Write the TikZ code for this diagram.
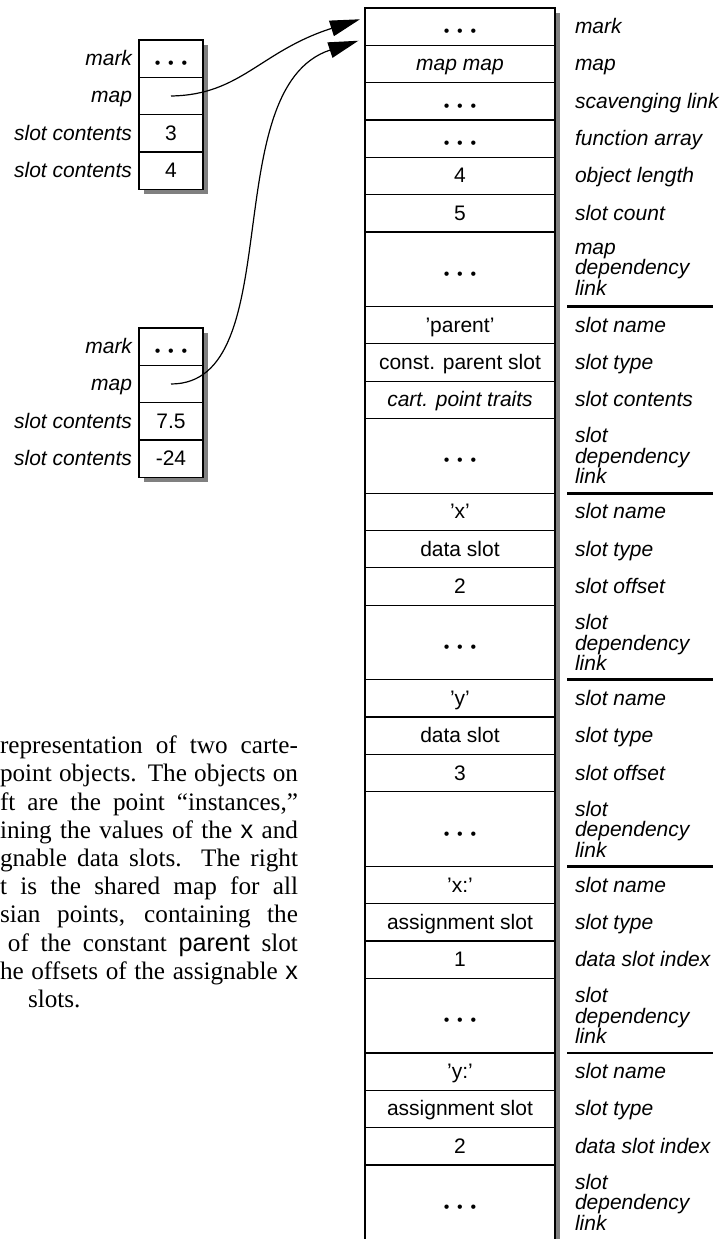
\documentclass[tikz,border=0pt]{standalone}
\usepackage{fontspec}
\setmainfont{Liberation Serif}
\setsansfont{Liberation Sans}
\usetikzlibrary{arrows.meta,positioning,shadows,calc}

\newcommand{\slotdots}{\raisebox{-1.5pt}{\fontsize{8}{8}\selectfont •\hspace{3.9pt}•\hspace{3.9pt}•}}
\newcommand{\deplink}[1]{#1\\[-2.35pt]dependency\\[-2.35pt]link}

\begin{document}
\begin{tikzpicture}[x=1pt, y=1pt,
    every node/.style={outer sep=0pt, inner sep=0pt, font=\sffamily\fontsize{10.5}{12.6}\selectfont},
    node distance=0pt,
    cell/.style={draw, line width=0.6pt, fill=white, minimum height=18.66pt,
        text height=8.5pt, text depth=1.5pt,
        drop shadow={shadow xshift=2.5pt, shadow yshift=-2.5pt, fill=black!50, opacity=1}},
    small/.style={cell, minimum width=32pt},
    wide/.style={cell, minimum width=95pt},
    tall/.style={wide, minimum height=37.32pt},
    stack/.style={font=\sffamily\itshape\fontsize{10.5}{12.6}\selectfont, align=left},
    lab/.style={stack, text height=8.5pt, text depth=1.5pt},
    grp/.style={line width=1.4pt},
    link/.style={line width=0.6pt, -{Triangle[length=15pt, width=8pt]}}]
    \useasboundingbox (0,0) rectangle (361.5,-619.5);

    % the shared map
    \node[wide, anchor=north west] (mk) at (182.5,-4) {\slotdots};
    \node[wide, below=of mk] (mp) {\itshape map map};
    \node[wide, below=of mp] (sl) {\slotdots};
    \node[wide, below=of sl] (fa) {\slotdots};
    \node[wide, below=of fa] (ol) {4};
    \node[wide, below=of ol] (sc) {5};
    \node[tall, below=of sc] (md) {\slotdots};
    \node[wide, below=of md] (pn) {'parent'};
    \node[wide, below=of pn] (pt) {const. parent slot};
    \node[wide, below=of pt] (pc) {\itshape cart. point traits};
    \node[tall, below=of pc] (pd) {\slotdots};
    \node[wide, below=of pd] (xn) {'x'};
    \node[wide, below=of xn] (xt) {data slot};
    \node[wide, below=of xt] (xo) {2};
    \node[tall, below=of xo] (xd) {\slotdots};
    \node[wide, below=of xd] (yn) {'y'};
    \node[wide, below=of yn] (yt) {data slot};
    \node[wide, below=of yt] (yo) {3};
    \node[tall, below=of yo] (yd) {\slotdots};
    \node[wide, below=of yd] (xan) {'x:'};
    \node[wide, below=of xan] (xat) {assignment slot};
    \node[wide, below=of xat] (xai) {1};
    \node[tall, below=of xai] (xad) {\slotdots};
    \node[wide, below=of xad] (yan) {'y:'};
    \node[wide, below=of yan] (yat) {assignment slot};
    \node[wide, below=of yat] (yai) {2};
    \node[tall, below=of yai] (yad) {\slotdots};

    \node[lab, right=10pt of mk] (mkl) {mark};
    \node[lab, right=10pt of mp] (mpl) {map};
    \node[lab, right=10pt of sl] (sll) {scavenging link};
    \node[lab, right=10pt of fa] (fal) {function array};
    \node[lab, right=10pt of ol] (oll) {object length};
    \node[lab, right=10pt of sc] (scl) {slot count};
    \node[stack, right=10pt of md] (mdl) {\deplink{map}};
    \node[lab, right=10pt of pn] (pnl) {slot name};
    \node[lab, right=10pt of pt] (ptl) {slot type};
    \node[lab, right=10pt of pc] (pcl) {slot contents};
    \node[stack, right=10pt of pd] (pdl) {\deplink{slot}};
    \node[lab, right=10pt of xn] (xnl) {slot name};
    \node[lab, right=10pt of xt] (xtl) {slot type};
    \node[lab, right=10pt of xo] (xol) {slot offset};
    \node[stack, right=10pt of xd] (xdl) {\deplink{slot}};
    \node[lab, right=10pt of yn] (ynl) {slot name};
    \node[lab, right=10pt of yt] (ytl) {slot type};
    \node[lab, right=10pt of yo] (yol) {slot offset};
    \node[stack, right=10pt of yd] (ydl) {\deplink{slot}};
    \node[lab, right=10pt of xan] (xanl) {slot name};
    \node[lab, right=10pt of xat] (xatl) {slot type};
    \node[lab, right=10pt of xai] (xail) {data slot index};
    \node[stack, right=10pt of xad] (xadl) {\deplink{slot}};
    \node[lab, right=10pt of yan] (yanl) {slot name};
    \node[lab, right=10pt of yat] (yatl) {slot type};
    \node[lab, right=10pt of yai] (yail) {data slot index};
    \node[stack, right=10pt of yad] (yadl) {\deplink{slot}};

    \foreach \g in {md,pd,xd,yd,xad}
        \draw[grp] ($(\g.south east)+(6,0)$) -- +(73,0);

    % the two points
    \node[small, anchor=north west] (a1) at (69.5,-20) {\slotdots};
    \node[small, below=of a1] (a2) {};
    \node[small, below=of a2] (a3) {3};
    \node[small, below=of a3] (a4) {4};
    \node[lab, left=3.5pt of a1] (a1l) {mark};
    \node[lab, left=3.5pt of a2] (a2l) {map};
    \node[lab, left=3.5pt of a3] (a3l) {slot contents};
    \node[lab, left=3.5pt of a4] (a4l) {slot contents};

    \node[small, anchor=north west] (b1) at (69.5,-164) {\slotdots};
    \node[small, below=of b1] (b2) {};
    \node[small, below=of b2] (b3) {7.5};
    \node[small, below=of b3] (b4) {-24};
    \node[lab, left=3.5pt of b1] (b1l) {mark};
    \node[lab, left=3.5pt of b2] (b2l) {map};
    \node[lab, left=3.5pt of b3] (b3l) {slot contents};
    \node[lab, left=3.5pt of b4] (b4l) {slot contents};

    \draw[link] (a2.center) .. controls +(35,0.5) and +(-50,-16) .. ($(mk.west)+(-2.5,3.7)$);
    \draw[link] (b2.center) .. controls +(59.5,0) and +(-71.7,-23.6) .. ($(mk.south west)+(-3.3,2.3)$);

    % caption, cut off at the left edge
    \node[font=\rmfamily\fontsize{12.6}{14.1}\selectfont, text width=149pt, align=justify,
        anchor=north east] (cap) at (149,-368) {\noindent\tolerance=9999
        representation of two carte-\linebreak
        point objects. The objects on\linebreak
        ft are the point “instances,”\linebreak
        ining the values of the \textsf{x} and\linebreak
        gnable data slots. The right\linebreak
        t is the shared map for all\linebreak
        sian points, containing the\linebreak
        \hspace*{4pt}of the constant \textsf{parent} slot\linebreak
        he offsets of the assignable \textsf{x}\linebreak
        \hspace*{14pt}slots.};
\end{tikzpicture}
\end{document}
